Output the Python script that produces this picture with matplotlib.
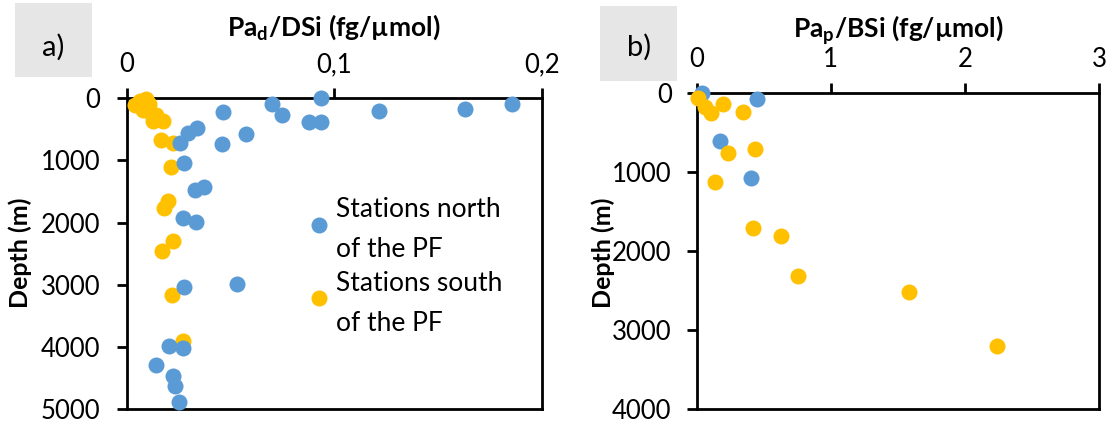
# Pa/Si ratios against depth, stations north and south of the Polar Front.

import matplotlib.pyplot as plt
from matplotlib.patches import Rectangle

plt.rcParams['font.family'] = ['Lato', 'DejaVu Sans']
plt.rcParams['mathtext.fontset'] = 'custom'
plt.rcParams['mathtext.rm'] = 'Lato:bold'
plt.rcParams['mathtext.it'] = 'Lato:bold'
plt.rcParams['mathtext.bf'] = 'Lato:bold'

# panel a) dissolved Pa / DSi
north_a_ratio = [0.0464, 0.0701, 0.0749, 0.0936, 0.0880, 0.0936, 0.1216, 0.1627, 0.1856,
                 0.0339, 0.0296, 0.0259, 0.0461, 0.0576, 0.0275, 0.0328, 0.0373, 0.0269,
                 0.0333, 0.0531, 0.0277, 0.0203, 0.0272, 0.0141, 0.0224, 0.0232, 0.0250]
north_a_depth = [225, 91, 268, 0, 375, 375, 204, 177, 91,
                 482, 563, 724, 740, 573, 1045, 1474, 1431, 1919,
                 1983, 2991, 3039, 3982, 4020, 4299, 4476, 4626, 4894]
south_a_ratio = [0.0040, 0.0065, 0.0095, 0.0105, 0.0080, 0.0115, 0.0140, 0.0128, 0.0175,
                 0.0163, 0.0224, 0.0213, 0.0200, 0.0179, 0.0224, 0.0171, 0.0216, 0.0269]
south_a_depth = [110, 50, 10, 90, 190, 240, 270, 360, 360,
                 670, 724, 1110, 1646, 1769, 2289, 2455, 3162, 3902]

# panel b) particulate Pa / BSi
north_b_ratio = [0.037, 0.448, 0.177, 0.405]
north_b_depth = [0, 72, 599, 1076]
south_b_ratio = [0.012, 0.062, 0.104, 0.199, 0.348, 0.231, 0.438, 0.139, 0.418,
                 0.627, 0.754, 1.58, 2.24]
south_b_depth = [63, 170, 253, 139, 240, 751, 705, 1127, 1700,
                 1802, 2308, 2511, 3199]

xticks_a = [0, 0.1, 0.2]
xticklabels_a = ['0', '0,1', '0,2']
yticks_a = [0, 1000, 2000, 3000, 4000, 5000]
xticks_b = [0, 1, 2, 3]
yticks_b = [0, 1000, 2000, 3000, 4000]

labels = ['Stations north\nof the PF', 'Stations south\nof the PF']
blue = '#5b9bd5'
yellow = '#ffc000'

W, H = 1106, 423
fig = plt.figure(figsize=(W / 100, H / 100), dpi=100)


def px_axes(l, t, r, b):
    return fig.add_axes([l / W, 1 - b / H, (r - l) / W, (b - t) / H])


def px_box(l, t, r, b):
    fig.patches.append(Rectangle((l / W, 1 - b / H), (r - l) / W, (b - t) / H,
                                 transform=fig.transFigure, facecolor='#e7e6e6',
                                 edgecolor='none', zorder=0))


def style(ax, xticks, yticks, ypad):
    ax.xaxis.tick_top()
    ax.set_xticks(xticks)
    ax.set_yticks(yticks)
    ax.tick_params(axis='x', direction='out', length=7, width=2, pad=8, labelsize=18.5)
    ax.tick_params(axis='y', direction='out', length=7, width=2, pad=ypad, labelsize=18.5)
    for s in ax.spines.values():
        s.set_linewidth(2)
        s.set_color('black')


msize = 133

ax_a = px_axes(126.7, 98.3, 542, 409)
ax_a.scatter(south_a_ratio, south_a_depth, s=msize, color=yellow, linewidths=0,
             clip_on=False, zorder=3, label=labels[1])
ax_a.scatter(north_a_ratio, north_a_depth, s=msize, color=blue, linewidths=0,
             clip_on=False, zorder=4, label=labels[0])
ax_a.set_xlim(0, 0.2)
ax_a.set_ylim(5000, 0)
style(ax_a, xticks_a, yticks_a, 12)
ax_a.set_xticklabels(xticklabels_a)

h, l = ax_a.get_legend_handles_labels()
leg = ax_a.legend(h[::-1], l[::-1], loc='upper left', frameon=False, fontsize=19,
                  bbox_to_anchor=(309.75 / W, 1 - 197 / H), bbox_transform=fig.transFigure,
                  borderpad=0, borderaxespad=0, handlelength=0.7, handletextpad=0.28,
                  labelspacing=0.33, scatterpoints=1, scatteryoffsets=[0.8])
for t in leg.get_texts():
    t.set_linespacing(1.75)

ax_b = px_axes(696.7, 93.3, 1099, 409.3)
ax_b.scatter(north_b_ratio, north_b_depth, s=msize, color=blue, linewidths=0,
             clip_on=False, zorder=3)
ax_b.scatter(south_b_ratio, south_b_depth, s=msize, color=yellow, linewidths=0,
             clip_on=False, zorder=4)
ax_b.set_xlim(0, 3)
ax_b.set_ylim(4000, 0)
style(ax_b, xticks_b, yticks_b, 11)

# titles on top of each panel
fig.text(334 / W, 1 - 36 / H, 'Pa$_\\mathrm{d}$/DSi (fg/µmol)', fontsize=19,
         fontweight='bold', ha='center', va='baseline')
fig.text(898 / W, 1 - 38 / H, 'Pa$_\\mathrm{p}$/BSi (fg/µmol)', fontsize=19,
         fontweight='bold', ha='center', va='baseline')
fig.text(20 / W, 1 - 253 / H, 'Depth (m)', fontsize=18, fontweight='bold',
         rotation=90, ha='center', va='center')
fig.text(603 / W, 1 - 253 / H, 'Depth (m)', fontsize=18, fontweight='bold',
         rotation=90, ha='center', va='center')

# panel letters in grey boxes
px_box(15, 3, 92, 77)
px_box(600, 6, 677, 81)
fig.text(53.5 / W, 1 - 47 / H, 'a)', fontsize=21, ha='center', va='center')
fig.text(639 / W, 1 - 47 / H, 'b)', fontsize=21, ha='center', va='center')

fig.savefig('out.png', dpi=100)
